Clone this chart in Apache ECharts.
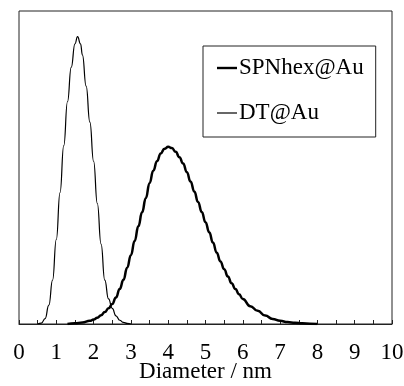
<!DOCTYPE html>
<html>
<head>
<meta charset="utf-8">
<script src="https://cdn.jsdelivr.net/npm/echarts@6/dist/echarts.min.js"></script>
<style>html,body{margin:0;padding:0;background:#fff}#c{width:404px;height:386px}</style>
</head>
<body>
<div id="c"></div>
<script>
const xTickLabels = ['0','1','2','3','4','5','6','7','8','9','10'];
const seriesNames = ['SPNhex@Au', 'DT@Au'];
const dtX = [0.5,0.6,0.7,0.8,0.9,1.0,1.1,1.2,1.3,1.4,1.5,1.57,1.65,1.7,1.8,1.9,2.0,2.1,2.2,2.3,2.4,2.5,2.6,2.7,2.8,2.9,3.0];
const dtY = [0,0.003,0.017,0.06,0.14,0.27,0.42,0.57,0.71,0.82,0.895,0.918,0.895,0.86,0.76,0.645,0.52,0.385,0.255,0.14,0.08,0.05,0.026,0.012,0.005,0.002,0];
const spnX = [1.3,1.5,1.7,1.9,2.0,2.1,2.2,2.3,2.4,2.5,2.6,2.7,2.8,2.9,3.0,3.1,3.2,3.3,3.4,3.5,3.6,3.7,3.8,3.9,4.0,4.1,4.2,4.3,4.4,4.5,4.6,4.7,4.8,4.9,5.0,5.1,5.2,5.3,5.4,5.5,5.6,5.7,5.8,5.9,6.0,6.2,6.4,6.6,6.8,7.0,7.2,7.4,7.6,7.8,8.0];
const spnY = [0,0.002,0.005,0.01,0.014,0.02,0.028,0.038,0.05,0.064,0.085,0.112,0.141,0.18,0.22,0.265,0.312,0.357,0.402,0.45,0.49,0.52,0.545,0.56,0.566,0.562,0.55,0.533,0.513,0.485,0.455,0.423,0.39,0.358,0.325,0.293,0.26,0.228,0.2,0.175,0.152,0.13,0.112,0.095,0.08,0.057,0.042,0.027,0.016,0.01,0.006,0.004,0.002,0.001,0];

const font = 'Liberation Serif';
const zip = (xs, ys) => xs.map((x, i) => [x, ys[i]]);

const chart = echarts.init(document.getElementById('c'));
chart.setOption({
  animation: false,
  backgroundColor: '#fff',
  grid: { left: 19, right: 12, top: 11, bottom: 62, outerBoundsMode: 'none', containLabel: false, show: true, borderColor: '#222', borderWidth: 1, backgroundColor: 'transparent' },
  legend: {
    orient: 'vertical', left: 203, top: 46,
    padding: [10, 12, 12, 14],
    itemGap: 21, itemWidth: 20, itemHeight: 14,
    borderColor: '#222', borderWidth: 1,
    backgroundColor: '#fff',
    textStyle: { fontFamily: font, fontSize: 23, lineHeight: 24, color: '#000', padding: [0, 0, 0, -3] },
    data: [
      { name: seriesNames[0], icon: 'path://M0 0H20V2.4H0Z', itemStyle: { color: '#000', borderWidth: 0 } },
      { name: seriesNames[1], icon: 'path://M0 0H20V1.2H0Z', itemStyle: { color: '#000', borderWidth: 0 } }
    ]
  },
  xAxis: {
    type: 'value', min: 0, max: 10, interval: 1,
    name: 'Diameter / nm', nameLocation: 'middle', nameGap: 36, nameMoveOverlap: false,
    nameTextStyle: { fontFamily: font, fontSize: 23, color: '#000' },
    axisLine: { show: true, lineStyle: { color: '#222', width: 1 } },
    axisTick: { show: true, inside: true, length: 4, lineStyle: { color: '#222' } },
    minorTick: { show: true, splitNumber: 2, length: 4, lineStyle: { color: '#222' } },
    axisLabel: { fontFamily: font, fontSize: 23, color: '#000', margin: 17, formatter: v => xTickLabels[Math.round(v)] },
    splitLine: { show: false }
  },
  yAxis: {
    type: 'value', min: 0, max: 1,
    axisLine: { show: false }, axisTick: { show: false }, axisLabel: { show: false }, splitLine: { show: false }
  },
  series: [
    { name: seriesNames[0], type: 'line', data: zip(spnX, spnY), smooth: true, smoothMonotone: 'x', symbol: 'none', lineStyle: { color: '#000', width: 2.5 }, itemStyle: { color: '#000' } },
    { name: seriesNames[1], type: 'line', data: zip(dtX, dtY), smooth: true, smoothMonotone: 'x', symbol: 'none', lineStyle: { color: '#000', width: 1.2 }, itemStyle: { color: '#000' } }
  ]
});
</script>
</body>
</html>
